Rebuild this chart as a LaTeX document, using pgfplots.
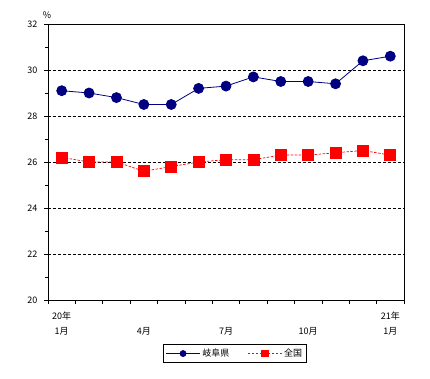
\documentclass[border=0pt]{standalone}
\usepackage{pgfplots}
\pgfplotsset{compat=1.18}
\usepackage{fontspec}
\setmainfont{Noto Sans CJK JP}
\definecolor{navyb}{RGB}{0,0,128}
\begin{document}
\begin{tikzpicture}[x=1pt,y=1pt]
\useasboundingbox (0,0) rectangle (430,379);
\begin{axis}[
 at={(48pt,79pt)}, anchor=south west,
 scale only axis, width=356pt, height=276pt,
 xmin=-0.5, xmax=12.5, ymin=20, ymax=32,
 font=\fontsize{9}{11}\selectfont,
 /pgf/number format/assume math mode=true,
 axis line style={black, line width=0.9pt},
 xtick pos=bottom, ytick pos=left,
 xtick={-0.5,0.5,1.5,2.5,3.5,4.5,5.5,6.5,7.5,8.5,9.5,10.5,11.5,12.5},
 xticklabels={},
 extra x ticks={0,3,6,9,12},
 extra x tick labels={{20年\\1月},{\vphantom{20年}\\4月},{\vphantom{20年}\\7月},{\vphantom{20年}\\10月},{21年\\1月}},
 extra x tick style={major tick length=0pt, grid=none, xticklabel style={align=center, yshift=-8pt, font=\fontsize{9}{15}\selectfont}},
 ytick={20,22,24,26,28,30,32},
 minor y tick num=1,
 tick align=outside,
 major tick length=4pt, minor tick length=3pt,
 tick style={black, line width=0.6pt},
 yticklabel style={xshift=-3pt},
 ymajorgrids,
 major grid style={black, dashed, line width=0.5pt, dash pattern=on 3pt off 2pt},
 legend style={at={(0.525,-0.194)}, anchor=center, legend columns=2, draw=black, line width=0.8pt,
   font=\fontsize{9}{11}\selectfont, inner sep=2.5pt,
   /tikz/every even column/.append style={column sep=16pt}},
 legend image code/.code={\draw[mark repeat=2,mark phase=2, every mark/.append style={solid, scale=0.6}] plot coordinates {(0pt,0pt)(17pt,0pt)(34pt,0pt)};},
]
\addplot[navyb, line width=0.8pt, mark=*, mark size=5pt, mark options={solid, fill=navyb, draw=navyb}]
 coordinates {(0,29.1)(1,29.0)(2,28.8)(3,28.5)(4,28.5)(5,29.2)(6,29.3)(7,29.7)(8,29.5)(9,29.5)(10,29.4)(11,30.4)(12,30.6)};
\addlegendentry{岐阜県}
\addplot[red, line width=0.7pt, dash pattern=on 2.5pt off 1.5pt, mark=square*, mark size=5.5pt, mark options={solid, fill=red, draw=red}]
 coordinates {(0,26.2)(1,26.0)(2,26.0)(3,25.6)(4,25.8)(5,26.0)(6,26.1)(7,26.1)(8,26.3)(9,26.3)(10,26.4)(11,26.5)(12,26.3)};
\addlegendentry{全国}
\end{axis}
\node[font=\fontsize{9}{11}\selectfont] at (47,364) {\%};
\end{tikzpicture}
\end{document}
